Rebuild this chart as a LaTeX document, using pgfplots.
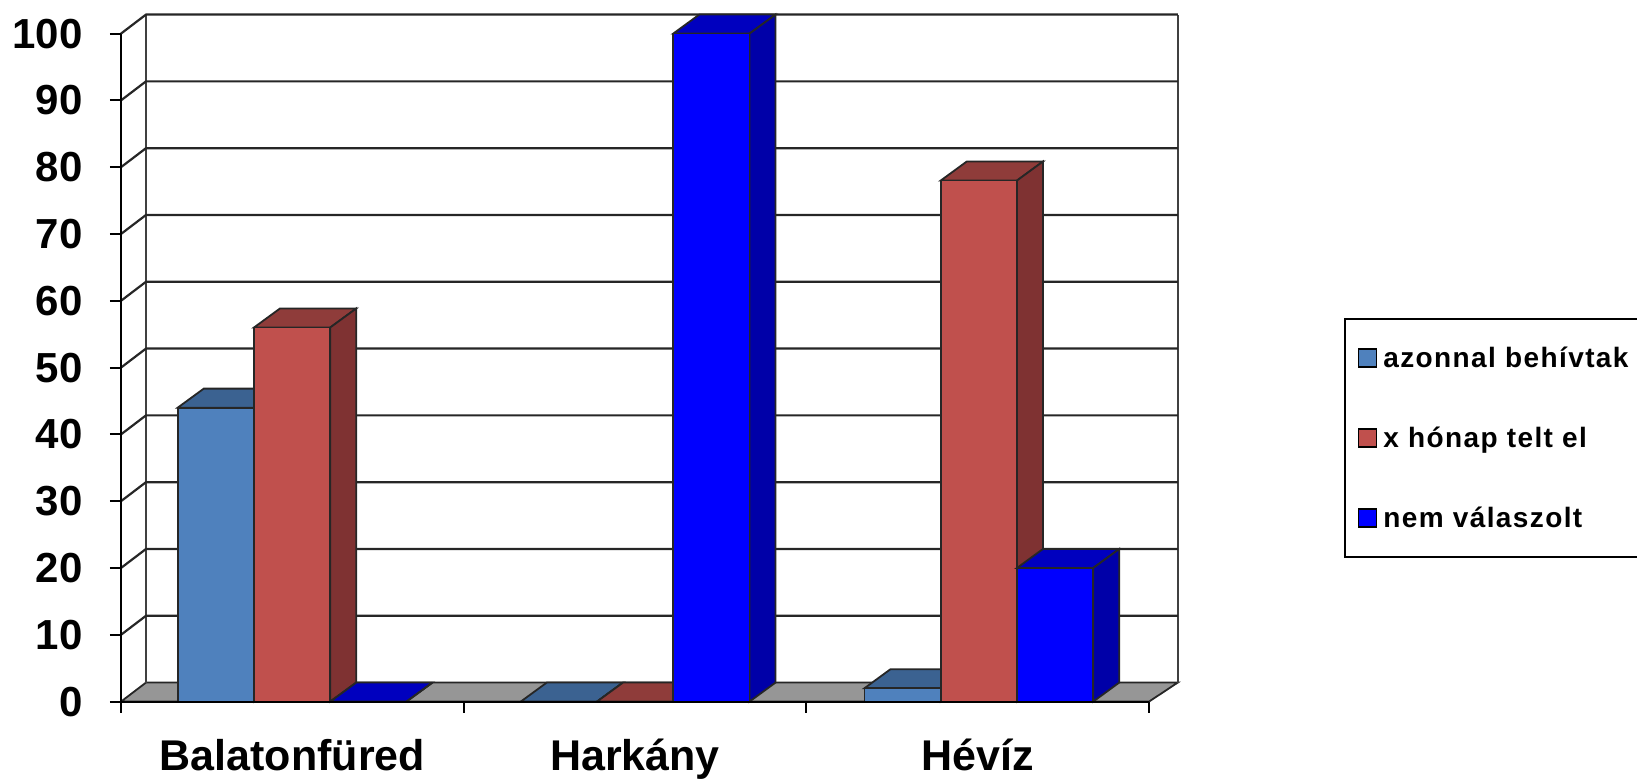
\documentclass[border=0pt]{standalone}
\usepackage{fontspec}
\setmainfont{Liberation Sans}
\newfontfamily\legfont[LetterSpace=5]{Liberation Sans}
\usepackage{pgfplots}
\pgfplotsset{compat=1.18}

\definecolor{blueF}{HTML}{4F81BD}
\definecolor{blueT}{HTML}{3B6291}
\definecolor{blueS}{HTML}{34567F}
\definecolor{redF}{HTML}{C0504D}
\definecolor{redT}{HTML}{8F3C3A}
\definecolor{redS}{HTML}{7F3232}
\definecolor{navyF}{HTML}{0000FF}
\definecolor{navyT}{HTML}{0000BF}
\definecolor{navyS}{HTML}{0000A8}
\definecolor{floor}{HTML}{969696}

% depth offset of the 3D look, in axis units
\def\dx{0.076}
\def\dy{2.85}
\def\bw{0.2225}

% one grid line: along the left wall, then across the back wall
\newcommand{\gridrow}[1]{%
  \pgfmathsetmacro\yb{#1+\dy}%
  \edef\tmp{\noexpand\addplot[black!85,line width=2.2pt,forget plot]
    coordinates {(0,#1) (0.073,\yb) (3.084,\yb)};}\tmp}

% one bar: left edge, value, colour prefix
\newcommand{\cube}[3]{%
  \pgfmathsetmacro\xb{#1+\bw}\pgfmathsetmacro\xc{#1+\dx}\pgfmathsetmacro\xd{#1+\bw+\dx}%
  \pgfmathsetmacro\yt{#2+\dy}\pgfmathsetmacro\yf{\dy}%
  \edef\tmp{%
    \noexpand\addplot[fill=#3T,draw=black!85,line width=1.8pt,forget plot]
      coordinates {(#1,#2) (\xc,\yt) (\xd,\yt) (\xb,#2)} --cycle;
    \noexpand\addplot[fill=#3S,draw=black!85,line width=1.8pt,forget plot]
      coordinates {(\xb,0) (\xd,\yf) (\xd,\yt) (\xb,#2)} --cycle;
    \noexpand\addplot[fill=#3F,draw=black!85,line width=1.8pt,forget plot]
      coordinates {(#1,0) (\xb,0) (\xb,#2) (#1,#2)} --cycle;}\tmp}

\begin{document}
\begin{tikzpicture}[x=1pt,y=1pt]
\begin{axis}[
  at={(121pt,77.4pt)},
  anchor=origin,
  scale only axis,
  width=1028pt,
  height=668pt,
  xmin=0, xmax=3,
  ymin=0, ymax=100,
  clip=false,
  axis on top,
  axis x line=bottom,
  axis y line=left,
  axis line style={-,black,line width=2pt},
  tick style={black,line width=2pt},
  tick align=outside,
  major tick length=11pt,
  minor tick length=11pt,
  ytick={0,10,...,100},
  xtick={0.5,1.5,2.5},
  xticklabels={Balatonfüred,Harkány,Hévíz},
  minor xtick={0,1,2,3},
  x tick style={draw=none},
  minor x tick style={black,draw=black,line width=2pt},
  xticklabel style={font=\fontsize{43}{50}\selectfont\bfseries,yshift=-23pt},
  yticklabel style={font=\fontsize{42}{50}\selectfont\bfseries,xshift=-24pt},
  /pgf/number format/assume math mode=true,
  legend cell align=left,
  legend style={
    at={(1.1895,0.5743)},anchor=north west,
    draw=black,line width=1.8pt,fill=none,
    inner xsep=13pt,inner ysep=24pt,
    row sep=50pt,
    font=\fontsize{28}{28}\selectfont\legfont\bfseries,
    /tikz/every node/.append style={inner sep=4pt,inner xsep=6pt},
  },
  legend image code/.code={\draw[#1,line width=1.6pt] (0pt,-9pt) rectangle (18pt,9pt);},
]
% floor and back wall
\addplot[fill=floor,draw=black!85,line width=1.8pt,forget plot]
  coordinates {(0,0) (3,0) (3.084,2.85) (0.073,2.85)} --cycle;
\addplot[black!75,line width=2.6pt,forget plot] coordinates {(0.073,2.85) (0.073,102.85)};
\addplot[black!75,line width=2.6pt,forget plot] coordinates {(3.084,2.85) (3.084,102.85)};
\pgfplotsinvokeforeach{10,20,30,40,50,60,70,80,90,100}{\gridrow{#1}}

% Balatonfured
\cube{0.1655}{44}{blue}
\cube{0.3880}{56}{red}
\cube{0.6105}{0}{navy}
% Harkany
\cube{1.1666}{0}{blue}
\cube{1.3891}{0}{red}
\cube{1.6116}{100}{navy}
% Heviz
\cube{2.1696}{2}{blue}
\cube{2.3921}{78}{red}
\cube{2.6146}{20}{navy}

\addlegendimage{fill=blueF,draw=black}
\addlegendentry{azonnal behívtak}
\addlegendimage{fill=redF,draw=black}
\addlegendentry{x hónap telt el}
\addlegendimage{fill=navyF,draw=black}
\addlegendentry{nem válaszolt}
\end{axis}
\pgfresetboundingbox
\path[use as bounding box] (0,0) rectangle (1637pt,779pt);
\end{tikzpicture}
\end{document}
